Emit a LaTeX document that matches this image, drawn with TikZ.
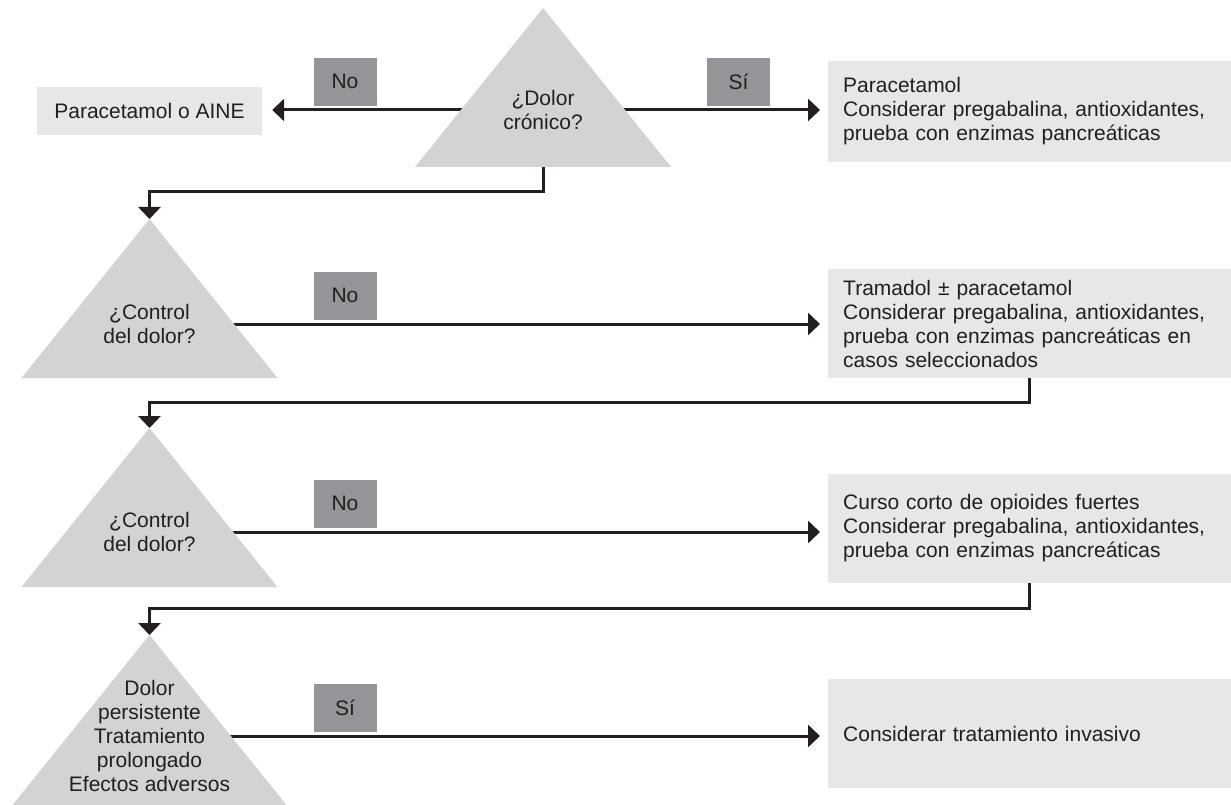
\documentclass[tikz,border=0pt]{standalone}
\usepackage{fontspec}
\setmainfont{Liberation Sans}
\usetikzlibrary{arrows.meta}
\definecolor{inkdark}{HTML}{231F20}
\definecolor{tagfill}{HTML}{939598}
\definecolor{askfill}{HTML}{D1D3D4}
\definecolor{boxfill}{HTML}{E6E7E8}
\pgfdeclarelayer{under}
\pgfsetlayers{under,main}
\tikzset{
  flow/.style={
    line width=3pt,
    draw=inkdark,
    -{Triangle[length=12pt,width=22pt]}
  },
  question/.style={fill=askfill},
  question text/.style={
    align=center,
    text=inkdark,
    inner sep=0pt
  },
  answer/.style={
    fill=tagfill,
    text=inkdark,
    minimum width=63pt,
    minimum height=48pt,
    inner sep=0pt
  },
  treatment/.style={
    fill=boxfill,
    text=inkdark,
    align=left,
    text width=373pt,
    inner xsep=15pt,
    inner ysep=0pt,
    minimum height=#1
  },
  treatment/.default=109pt
}

\begin{document}
\begin{tikzpicture}[x=1pt, y=-1pt, font=\fontsize{21}{24}\selectfont]
\useasboundingbox (0,0) rectangle (1231,805);

% decision triangles
\fill[question] (543,8) coordinate (t1) -- (671,167) -- (415,167) -- cycle;
\coordinate (b1) at (543,167);
\fill[question] (149.5,219) coordinate (t2) -- (277.5,378) -- (21.5,378) -- cycle;
\fill[question] (149.5,428) coordinate (t3) -- (277.5,587) -- (21.5,587) -- cycle;
\fill[question] (149.5,635) coordinate (t4) -- (290.5,810) -- (8.5,810) -- cycle;

\node[question text] (q1) at (543,110)   {¿Dolor\\crónico?};
\node[question text] (q2) at (149.5,324) {¿Control\\del dolor?};
\node[question text] (q3) at (149.5,532) {¿Control\\del dolor?};
\node[question text] (q4) at (149.5,736) {Dolor\\persistente\\Tratamiento\\prolongado\\Efectos adversos};

% treatments
\node[fill=boxfill, text=inkdark, minimum width=225pt, minimum height=48pt, inner sep=0pt] (r0) at (149.5,111) {Paracetamol o AINE};
\node[treatment=101pt, anchor=west] (r1) at (828,111.5)
  {Paracetamol\\Considerar pregabalina, antioxidantes,\\prueba con enzimas pancreáticas};
\node[treatment, anchor=west] (r2) at (828,323.5)
  {Tramadol ± paracetamol\\Considerar pregabalina, antioxidantes,\\prueba con enzimas pancreáticas en\\casos seleccionados};
\node[treatment, anchor=west] (r3) at (828,528.5)
  {Curso corto de opioides fuertes\\Considerar pregabalina, antioxidantes,\\prueba con enzimas pancreáticas};
\node[treatment, anchor=west] (r4) at (828,733.5) {Considerar tratamiento invasivo};

% yes / no tags
\node[answer, anchor=south] (a0) at (345,106)   {No};
\node[answer, anchor=south] (a1) at (738.5,106) {Sí};
\node[answer, anchor=south] (a2) at (345,320)   {No};
\node[answer, anchor=south] (a3) at (345,528)   {No};
\node[answer, anchor=south] (a4) at (345,732)   {Sí};

\begin{pgfonlayer}{under}
\draw[flow, shorten >=10pt] (q1) -- (q1 -| r0.east);
\draw[flow, shorten >=8pt] (q1) -- (q1 -| r1.west);
\draw[flow] (b1) -- ++(0,25) -| (t2);
\draw[flow, shorten >=8pt] (q2) -- (q2 -| r2.west);
\draw[flow] (r2.south) -- ++(0,24) -| (t3);
\draw[flow, shorten >=8pt] (q3) -- (q3 -| r3.west);
\draw[flow] (r3.south) -- ++(0,25) -| (t4);
\draw[flow, shorten >=8pt] (q4) -- (q4 -| r4.west);
\end{pgfonlayer}
\end{tikzpicture}
\end{document}
